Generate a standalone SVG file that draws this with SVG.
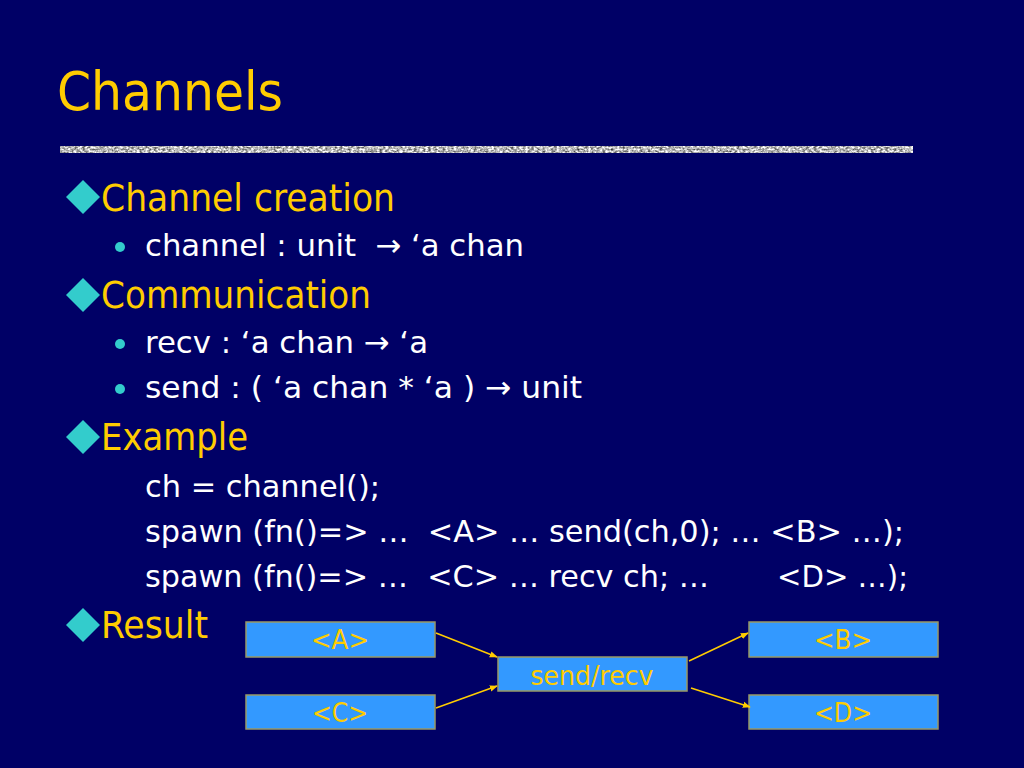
<svg xmlns="http://www.w3.org/2000/svg" width="1024" height="768" viewBox="0 0 1024 768">
<defs>
<style>
text{font-family:"DejaVu Sans Condensed","DejaVu Sans","Liberation Sans",sans-serif;white-space:pre}
.title{fill:#FFCC00;font-size:54px}
.l1{fill:#FFCC00;font-size:37px}
.l2{fill:#FFFFFF;font-size:31px}
.dia{fill:#33CCCC}
.dot{fill:#33CCCC}
.box{fill:#3399FF;stroke:#999966;stroke-width:1.5}
.bt{fill:#FFCC00;font-size:27px;text-anchor:middle}
.conn{stroke:#FFCC00;stroke-width:1.5;fill:none;marker-end:url(#ah)}
</style>
<marker id="ah" viewBox="0 0 10 10" refX="9" refY="5" markerWidth="8" markerHeight="8" orient="auto" markerUnits="userSpaceOnUse">
<path d="M0,1 L10,5 L0,9 z" fill="#FFCC00"/>
</marker>
<filter id="noise" x="0" y="0" width="1" height="1" color-interpolation-filters="sRGB">
<feTurbulence type="fractalNoise" baseFrequency="0.35 0.55" numOctaves="2" seed="3" result="t"/>
<feColorMatrix in="t" type="matrix" values="1.4 0 0 0 0.02  1.4 0 0 0 0.02  1.4 0 0 0 0.02  0 0 0 0 1" result="g"/>
<feComposite in="g" in2="SourceGraphic" operator="in"/>
</filter>
</defs>
<rect width="1024" height="768" fill="#000066"/>
<text class="title" x="57" y="110" textLength="226" lengthAdjust="spacingAndGlyphs">Channels</text>
<rect x="60" y="146" width="853" height="7" fill="#aaaaaa" filter="url(#noise)"/>

<g id="bullets">
<polygon class="dia" points="83,180 100,197 83,214 66,197"/>
<text class="l1" x="101" y="211" textLength="294" lengthAdjust="spacingAndGlyphs">Channel creation</text>
<circle class="dot" cx="120" cy="247" r="5"/>
<text class="l2" x="145" y="256" textLength="379" lengthAdjust="spacingAndGlyphs">channel : unit  → ‘a chan</text>
<polygon class="dia" points="83,278 100,295 83,312 66,295"/>
<text class="l1" x="101" y="308" textLength="270" lengthAdjust="spacingAndGlyphs">Communication</text>
<circle class="dot" cx="120" cy="344" r="5"/>
<text class="l2" x="145" y="353" textLength="283" lengthAdjust="spacingAndGlyphs">recv : ‘a chan → ‘a</text>
<circle class="dot" cx="120" cy="389" r="5"/>
<text class="l2" x="145" y="398" textLength="437" lengthAdjust="spacingAndGlyphs">send : ( ‘a chan * ‘a ) → unit</text>
<polygon class="dia" points="83,420 100,437 83,454 66,437"/>
<text class="l1" x="101" y="450" textLength="147" lengthAdjust="spacingAndGlyphs">Example</text>
<text class="l2" x="145" y="497" textLength="235" lengthAdjust="spacingAndGlyphs">ch = channel();</text>
<text class="l2" x="145" y="542" textLength="759" lengthAdjust="spacingAndGlyphs">spawn (fn()=> …  &lt;A&gt; … send(ch,0); … &lt;B&gt; …);</text>
<text class="l2" x="145" y="587" textLength="564" lengthAdjust="spacingAndGlyphs">spawn (fn()=> …  &lt;C&gt; … recv ch; …</text>
<text class="l2" x="777" y="587" textLength="131" lengthAdjust="spacingAndGlyphs">&lt;D&gt; …);</text>
<polygon class="dia" points="83,608 100,625 83,642 66,625"/>
<text class="l1" x="101" y="638" textLength="107" lengthAdjust="spacingAndGlyphs">Result</text>
</g>

<g id="nodeA"><rect class="box" x="246" y="622" width="189" height="35"/><text class="bt" x="340" y="649" textLength="58" lengthAdjust="spacingAndGlyphs">&lt;A&gt;</text></g>
<g id="nodeB"><rect class="box" x="749" y="622" width="189" height="35"/><text class="bt" x="843" y="649" textLength="58" lengthAdjust="spacingAndGlyphs">&lt;B&gt;</text></g>
<g id="nodeC"><rect class="box" x="246" y="695" width="189" height="34"/><text class="bt" x="340" y="722" textLength="56" lengthAdjust="spacingAndGlyphs">&lt;C&gt;</text></g>
<g id="nodeD"><rect class="box" x="749" y="695" width="189" height="34"/><text class="bt" x="843" y="722" textLength="58" lengthAdjust="spacingAndGlyphs">&lt;D&gt;</text></g>
<g id="nodeSR"><rect class="box" x="498" y="657" width="189" height="34"/><text class="bt" x="592" y="685" textLength="123" lengthAdjust="spacingAndGlyphs">send/recv</text></g>

<g id="connectors">
<line class="conn" x1="436" y1="633" x2="497" y2="657"/>
<line class="conn" x1="436" y1="708" x2="497" y2="686"/>
<line class="conn" x1="689" y1="661" x2="748" y2="633"/>
<line class="conn" x1="691" y1="688" x2="750" y2="707"/>
</g>
</svg>
